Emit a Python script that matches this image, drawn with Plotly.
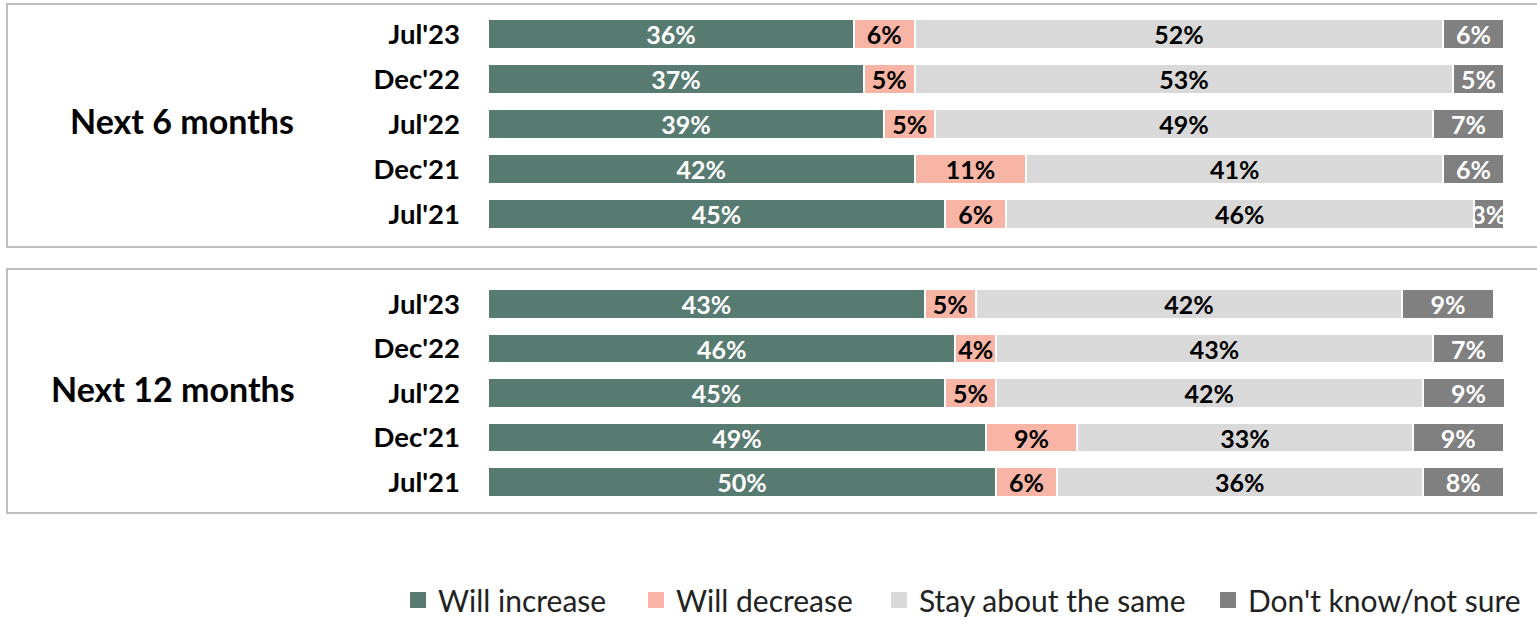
import plotly.graph_objects as go
from plotly.subplots import make_subplots

periods = ["Jul'23", "Dec'22", "Jul'22", "Dec'21", "Jul'21"]
series_names = ["Will increase", "Will decrease", "Stay about the same", "Don't know/not sure"]

six_increase = [36, 37, 39, 42, 45]
six_decrease = [6, 5, 5, 11, 6]
six_same = [52, 53, 49, 41, 46]
six_dontknow = [6, 5, 7, 6, 3]

twelve_increase = [43, 46, 45, 49, 50]
twelve_decrease = [5, 4, 5, 9, 6]
twelve_same = [42, 43, 42, 33, 36]
twelve_dontknow = [9, 7, 9, 9, 8]

panel_labels = ["Next 6 months", "Next 12 months"]

colors = ["#587B71", "#F8B4A4", "#D9D9D9", "#808080"]
text_colors = ["white", "black", "black", "white"]
legend_widths = [193, 198, 284, 280]

FONT = "Lato, 'Open Sans', sans-serif"

fig = make_subplots(rows=2, cols=1)

panels = [
    [six_increase, six_decrease, six_same, six_dontknow],
    [twelve_increase, twelve_decrease, twelve_same, twelve_dontknow],
]

for r, panel in enumerate(panels, start=1):
    for i, vals in enumerate(panel):
        fig.add_trace(
            go.Bar(
                x=vals,
                y=periods,
                orientation="h",
                name=series_names[i],
                legendgroup=series_names[i],
                showlegend=False,
                marker=dict(color=colors[i], line=dict(color="white", width=2)),
                texttemplate="%{x}%",
                textposition="inside",
                insidetextanchor="middle",
                constraintext="none",
                textangle=0,
                textfont=dict(family=FONT, size=25, color=text_colors[i], weight="bold"),
                hoverinfo="skip",
            ),
            row=r,
            col=1,
        )

# legend entries (square swatches)
for i, name in enumerate(series_names):
    fig.add_trace(
        go.Scatter(
            x=[None], y=[None], mode="markers", name=name, legendgroup=name,
            marker=dict(symbol="square", size=16, color=colors[i]),
            legendwidth=legend_widths[i], showlegend=True, hoverinfo="skip",
        ),
        row=1, col=1,
    )

x_dom = [488 / 1537, 1504 / 1537]
H = 632.0
fig.update_layout(
    barmode="stack",
    bargap=0.33,
    width=1537,
    height=632,
    margin=dict(l=0, r=0, t=0, b=0),
    paper_bgcolor="white",
    plot_bgcolor="white",
    font=dict(family=FONT, color="black"),
    xaxis=dict(domain=x_dom, range=[0, 100], visible=False, fixedrange=True),
    xaxis2=dict(domain=x_dom, range=[0, 100], visible=False, fixedrange=True),
    yaxis=dict(domain=[1 - 236.5 / H, 1 - 11.5 / H]),
    yaxis2=dict(domain=[1 - 504.25 / H, 1 - 281.75 / H]),
    legend=dict(
        orientation="h",
        x=(410 - 12) / 1537,
        xanchor="left",
        y=1 - 600 / H,
        yanchor="middle",
        font=dict(family=FONT, size=30, color="#222"),
        traceorder="normal",
        bgcolor="rgba(0,0,0,0)",
    ),
)

for ax in ["yaxis", "yaxis2"]:
    fig.layout[ax].update(
        type="category",
        categoryorder="array",
        categoryarray=periods,
        autorange="reversed",
        showgrid=False,
        zeroline=False,
        showline=False,
        ticks="",
        ticklabelstandoff=27,
        tickfont=dict(family=FONT, size=27.5, color="black", weight="bold"),
        fixedrange=True,
    )

# panel borders
for (top, bottom) in [(4, 247), (269, 513)]:
    fig.add_shape(
        type="rect", xref="paper", yref="paper",
        x0=7 / 1537, x1=1.01, y0=1 - bottom / H, y1=1 - top / H,
        line=dict(color="#BFBFBF", width=2), fillcolor="rgba(0,0,0,0)", layer="below",
    )

# panel labels
for label, (cx, cy) in zip(panel_labels, [(182, 120), (173, 389)]):
    fig.add_annotation(
        text=label, xref="paper", yref="paper",
        x=cx / 1537, y=1 - cy / H, xanchor="center", yanchor="middle",
        showarrow=False,
        font=dict(family=FONT, size=34, color="black", weight="bold"),
    )

fig.write_html(
    "out.html",
    config={"displayModeBar": False},
    post_script="document.body.style.margin='0';document.body.style.overflow='hidden';",
)
